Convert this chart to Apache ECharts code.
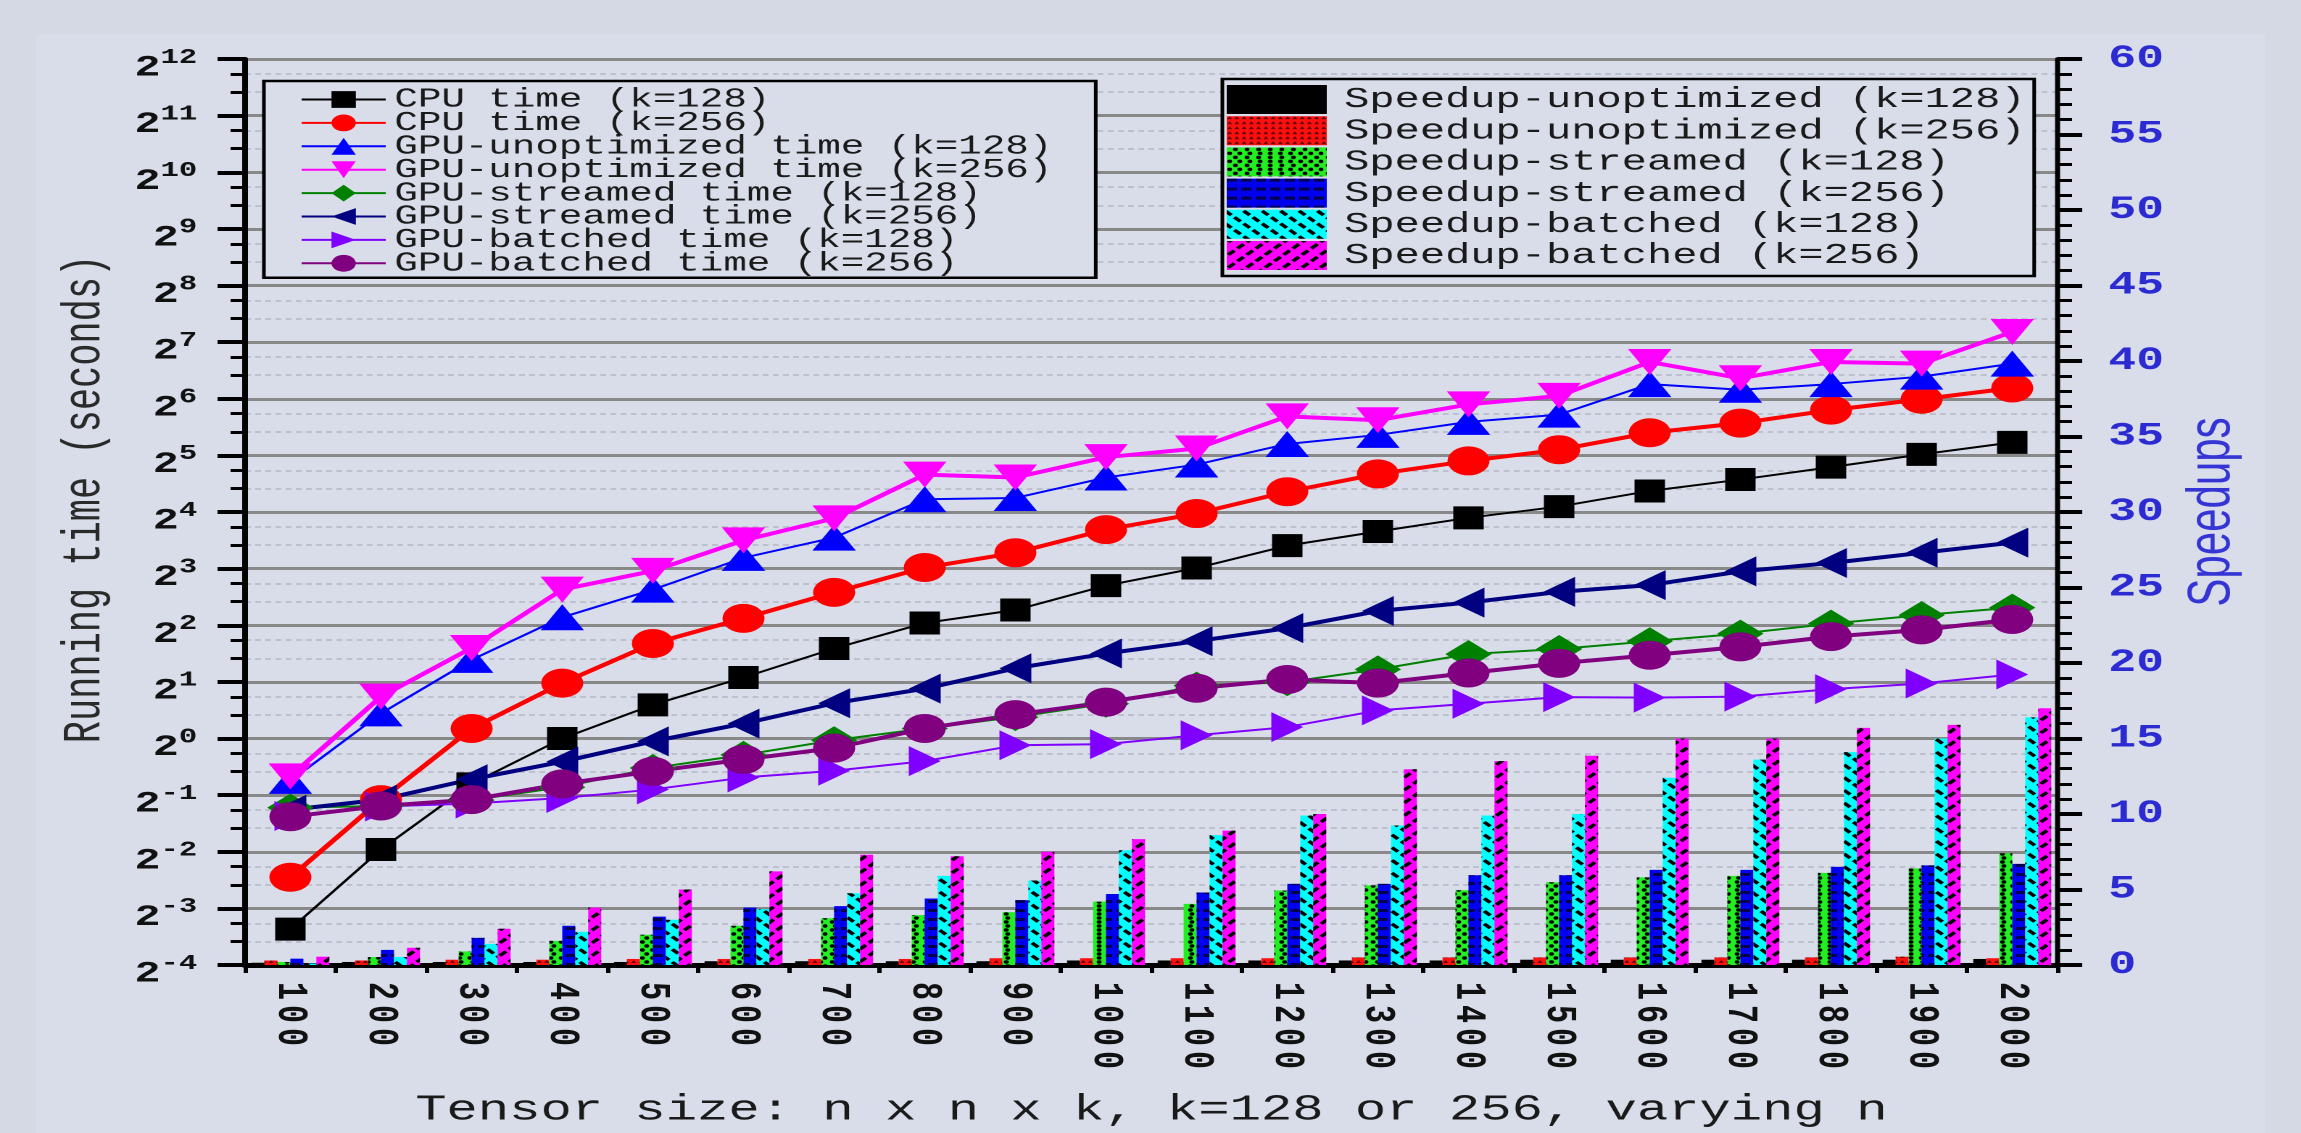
<!DOCTYPE html>
<html><head><meta charset="utf-8">
<script src="https://cdn.jsdelivr.net/npm/echarts@6/dist/echarts.min.js"></script>
<style>
html,body{margin:0;padding:0;width:2301px;height:1133px;overflow:hidden;background:#d5d9e3;}
#panel{position:absolute;left:36px;top:35px;width:2229px;height:1098px;background:#d9dde9;}
#chart{position:absolute;left:0;top:0;width:1587px;height:1133px;transform:scaleX(1.45);transform-origin:0 0;}
</style></head>
<body><div id="panel"></div><div id="chart"></div>
<script>
// ---------- data ----------
const categories = ['100','200','300','400','500','600','700','800','900','1000','1100','1200','1300','1400','1500','1600','1700','1800','1900','2000'];
const leftTickExponents = [-4,-3,-2,-1,0,1,2,3,4,5,6,7,8,9,10,11,12];
const minorTickFractions = [4/3, 5/3];
// running times (seconds)
const cpu128 = [0.097,0.257,0.574,1.00,1.51,2.11,3.01,4.11,4.82,6.50,8.06,10.6,12.6,14.9,17.1,20.7,23.8,27.7,32.4,37.5];
const cpu256 = [0.183,0.473,1.13,1.97,3.20,4.35,5.98,8.11,9.71,12.9,15.7,20.5,25.5,29.9,34.3,42.2,47.5,55.7,63.6,73.0];
const unopt128 = [0.595,1.36,2.62,4.41,6.19,9.13,11.7,18.7,19.0,24.4,28.6,36.8,41.1,48.2,52.7,76.6,71.5,76.6,83.9,98.4];
const unopt256 = [0.629,1.67,3.03,6.19,7.78,11.3,14.8,25.3,24.4,31.3,34.8,51.6,49.2,59.7,66.3,100.4,82.2,100.4,98.4,145];
const stream128 = [0.429,0.438,0.470,0.551,0.697,0.818,0.979,1.13,1.30,1.53,1.91,1.99,2.33,2.81,2.99,3.29,3.61,4.08,4.53,4.96];
const stream256 = [0.418,0.473,0.607,0.753,0.966,1.20,1.54,1.84,2.36,2.83,3.29,3.86,4.76,5.28,6.02,6.54,7.73,8.57,9.71,11.0];
const batched128 = [0.387,0.435,0.451,0.483,0.536,0.620,0.674,0.758,0.920,0.933,1.04,1.15,1.41,1.53,1.66,1.65,1.67,1.83,1.96,2.19];
const batched256 = [0.384,0.438,0.473,0.574,0.669,0.774,0.889,1.13,1.34,1.56,1.85,2.06,1.97,2.23,2.51,2.77,3.07,3.48,3.78,4.29];
// speedups
const spUnopt128 = [0.15,0.2,0.2,0.2,0.2,0.25,0.25,0.25,0.25,0.3,0.3,0.3,0.3,0.3,0.35,0.35,0.35,0.35,0.35,0.4];
const spUnopt256 = [0.3,0.3,0.35,0.35,0.4,0.4,0.4,0.4,0.45,0.45,0.45,0.45,0.5,0.5,0.5,0.5,0.5,0.5,0.55,0.45];
const spStream128 = [0.2,0.53,0.9,1.6,2.0,2.6,3.1,3.3,3.5,4.2,4.05,4.93,5.27,4.95,5.48,5.8,5.9,6.1,6.4,7.4];
const spStream256 = [0.42,1.0,1.8,2.6,3.2,3.8,3.9,4.4,4.3,4.7,4.8,5.37,5.37,5.94,5.94,6.3,6.3,6.5,6.6,6.7];
const spBatched128 = [0.1,0.53,1.4,2.2,3.0,3.7,4.75,5.9,5.6,7.6,8.6,9.9,9.24,9.9,10.0,12.4,13.6,14.1,15.0,16.4];
const spBatched256 = [0.55,1.14,2.4,3.8,5.0,6.2,7.3,7.2,7.5,8.34,8.9,10.0,12.96,13.5,13.86,15.0,15.0,15.7,15.9,17.0];

const xTitle = 'Tensor size: n x n x k, k=128 or 256, varying n';
const yLeftTitle = 'Running time (seconds)';
const yRightTitle = 'Speedups';

// ---------- derived tick values ----------
const majorVals = leftTickExponents.map(e => Math.pow(2, e));
const minorVals = [];
leftTickExponents.slice(0, -1).forEach(e => minorTickFractions.forEach(f => minorVals.push(Math.pow(2, e) * f)));

const MONO = 'Liberation Mono';
const chart = echarts.init(document.getElementById('chart'), null, {renderer: 'canvas', devicePixelRatio: 2});

function lineSeries(name, data, color, symbol, size, width, rotate) {
  return {name, type: 'line', xAxisIndex: 0, yAxisIndex: 0, data, symbol, symbolSize: size,
    symbolRotate: rotate || 0, z: 5,
    itemStyle: {color}, lineStyle: {color, width}};
}
function barSeries(name, data, color, decal) {
  const itemStyle = {color};
  if (decal) itemStyle.decal = decal;
  return {name, type: 'bar', xAxisIndex: 0, yAxisIndex: 1, data, barGap: '0%', barCategoryGap: '14%', z: 2, itemStyle};
}

const option = {
  animation: false,
  backgroundColor: 'transparent',
  grid: {left: 169, right: 168, top: 59, bottom: 165},
  legend: [
    {
      data: ['CPU time (k=128)','CPU time (k=256)','GPU-unoptimized time (k=128)','GPU-unoptimized time (k=256)',
             'GPU-streamed time (k=128)','GPU-streamed time (k=256)','GPU-batched time (k=128)','GPU-batched time (k=256)'],
      orient: 'vertical', left: 182, top: 81, itemWidth: 58, itemHeight: 21, itemGap: -3.6,
      padding: [5, 30, 1, 25], backgroundColor: '#d9dde9', borderColor: '#000', borderWidth: 2.5,
      textStyle: {fontFamily: MONO, fontSize: 27, lineHeight: 21, color: '#1a1a1a', padding: [0, 0, 0, 1]},
      selectedMode: false
    },
    {
      data: ['Speedup-unoptimized (k=128)','Speedup-unoptimized (k=256)','Speedup-streamed (k=128)',
             'Speedup-streamed (k=256)','Speedup-batched (k=128)','Speedup-batched (k=256)'],
      orient: 'vertical', left: 843, top: 79, itemWidth: 69, itemHeight: 29, itemGap: 2.2, icon: 'rect',
      padding: [6, 6, 6, 3], backgroundColor: '#d9dde9', borderColor: '#000', borderWidth: 2.5,
      textStyle: {fontFamily: MONO, fontSize: 29, lineHeight: 29, color: '#1a1a1a', padding: [0, 0, 0, 7]},
      selectedMode: false
    }
  ],
  xAxis: [
    {
      type: 'category', data: categories, position: 'bottom', boundaryGap: true,
      axisLine: {lineStyle: {color: '#000', width: 5}},
      axisTick: {alignWithLabel: true, length: 14, lineStyle: {color: '#000', width: 3}},
      axisLabel: {
        rotate: -90, margin: 17,
        formatter: v => v.split('').map(c => '{d|' + c + '}').join(''),
        rich: {d: {fontFamily: MONO, fontWeight: 'bold', fontSize: 30, color: '#111', padding: [0, 5, 0, 0]}}
      },
      splitLine: {show: false},
      name: xTitle, nameLocation: 'middle', nameGap: 127,
      nameTextStyle: {fontFamily: MONO, fontSize: 36, color: '#1a1a1a'}
    },
    {
      type: 'category', data: categories, position: 'bottom', boundaryGap: true,
      axisLine: {show: false},
      axisTick: {show: true, length: 8, lineStyle: {color: '#000', width: 3}},
      axisLabel: {show: false}, splitLine: {show: false}
    }
  ],
  yAxis: [
    {
      type: 'log', logBase: 2, min: majorVals[0], max: majorVals[majorVals.length - 1], position: 'left',
      axisLine: {show: true, lineStyle: {color: '#000', width: 4}},
      axisTick: {show: true, length: 19, customValues: majorVals, lineStyle: {color: '#000', width: 4}},
      axisLabel: {
        customValues: majorVals, margin: 33, padding: [12, 0, 0, 0],
        formatter: v => '{b|2}{s|' + Math.round(Math.log2(v)) + '}',
        rich: {
          b: {fontFamily: MONO, fontSize: 30, fontWeight: 'bold', color: '#111', verticalAlign: 'bottom', lineHeight: 36},
          s: {fontFamily: MONO, fontSize: 21, fontWeight: 'bold', color: '#111', verticalAlign: 'top', lineHeight: 21}
        }
      },
      splitLine: {show: true, lineStyle: {color: '#888888', width: 3}},
      name: yLeftTitle, nameLocation: 'middle', nameGap: 92, nameRotate: 90,
      nameTextStyle: {fontFamily: MONO, fontSize: 37, color: '#2a2a2a', padding: [0, 0, 0, 26]}
    },
    {
      type: 'value', min: 0, max: 60, interval: 5, position: 'right',
      axisLine: {show: true, lineStyle: {color: '#000', width: 3.5}},
      axisTick: {show: true, length: 17, lineStyle: {color: '#000', width: 4}},
      minorTick: {show: true, splitNumber: 5, length: 10, lineStyle: {color: '#000', width: 3}},
      axisLabel: {margin: 35, fontFamily: MONO, fontWeight: 'bold', fontSize: 32, color: '#2b2bd1'},
      splitLine: {show: false},
      name: yRightTitle, nameLocation: 'middle', nameGap: 86, nameRotate: 90,
      nameTextStyle: {fontFamily: 'Liberation Sans Narrow, Liberation Sans', fontSize: 42, color: '#3535d5'}
    },
    {
      type: 'log', logBase: 2, min: majorVals[0], max: majorVals[majorVals.length - 1], position: 'left',
      axisLine: {show: false},
      axisTick: {show: true, length: 10, customValues: minorVals, lineStyle: {color: '#000', width: 3}},
      axisLabel: {show: false},
      splitLine: {show: true, lineStyle: {color: '#b3b7c3', width: 1.5, type: [4, 3]}}
    }
  ],
  series: [
    barSeries('Speedup-unoptimized (k=128)', spUnopt128, '#000000'),
    barSeries('Speedup-unoptimized (k=256)', spUnopt256, '#ff1010',
      {symbol: 'triangle', symbolSize: 0.9, dashArrayX: [4, 1], dashArrayY: [3, 2], color: 'rgba(0,0,0,0.65)'}),
    barSeries('Speedup-streamed (k=128)', spStream128, '#22ee22',
      {symbol: 'circle', symbolSize: 0.85, dashArrayX: [[4, 3], [0, 3.5, 4, 0]], dashArrayY: [4, 0], color: '#000'}),
    barSeries('Speedup-streamed (k=256)', spStream256, '#0000ee',
      {symbol: 'rect', symbolSize: 1, dashArrayX: [[7, 3]], dashArrayY: [2.5, 6], color: 'rgba(0,0,60,0.9)'}),
    barSeries('Speedup-batched (k=128)', spBatched128, '#00ffff',
      {symbol: 'rect', symbolSize: 1, dashArrayX: [[6, 3]], dashArrayY: [3, 6], rotation: Math.PI / 4, color: '#000'}),
    barSeries('Speedup-batched (k=256)', spBatched256, '#ff00ff',
      {symbol: 'rect', symbolSize: 1, dashArrayX: [[6, 3]], dashArrayY: [3, 6], rotation: -Math.PI / 4, color: '#000'}),
    lineSeries('CPU time (k=128)', cpu128, '#000000', 'rect', [21, 23], 2),
    lineSeries('CPU time (k=256)', cpu256, '#ff0000', 'circle', 29, 4),
    lineSeries('GPU-unoptimized time (k=128)', unopt128, '#0000ff', 'triangle', [30, 26], 2),
    lineSeries('GPU-unoptimized time (k=256)', unopt256, '#ff00ff', 'triangle', [30, 26], 4, 180),
    lineSeries('GPU-streamed time (k=128)', stream128, '#008000', 'diamond', [32, 28], 2),
    lineSeries('GPU-streamed time (k=256)', stream256, '#000080', 'triangle', [30, 22], 4, 90),
    lineSeries('GPU-batched time (k=128)', batched128, '#8000ff', 'triangle', [30, 22], 2, -90),
    lineSeries('GPU-batched time (k=256)', batched256, '#800080', 'circle', 29, 4)
  ]
};
chart.setOption(option);
</script>
</body></html>
